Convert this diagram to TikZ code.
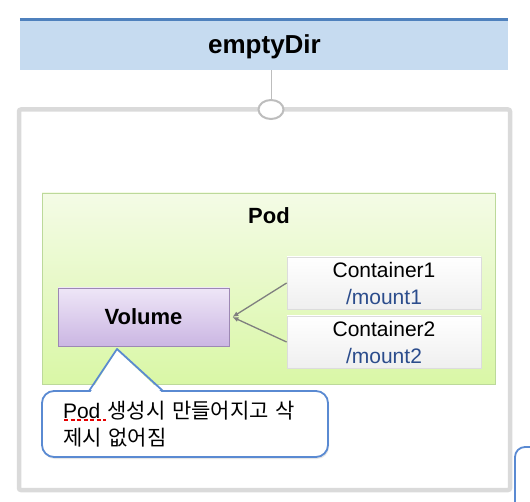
\documentclass[tikz,border=0pt]{standalone}
\usepackage{fontspec}
\setmainfont{Liberation Sans}
\newfontfamily\cjk{Noto Sans CJK KR}
\usetikzlibrary{shadows,arrows.meta,shapes.geometric}
\definecolor{hdrblue}{HTML}{C6DBF0}
\definecolor{hdrline}{HTML}{4F81BD}
\definecolor{framegray}{HTML}{DADADA}
\definecolor{circgray}{HTML}{BDBDBD}
\definecolor{podtop}{HTML}{F4FBE6}
\definecolor{podbot}{HTML}{D9F7A6}
\definecolor{podline}{HTML}{BCD99A}
\definecolor{voltop}{HTML}{EEE6F7}
\definecolor{volbot}{HTML}{CBB6E3}
\definecolor{volline}{HTML}{9D88B4}
\definecolor{conline}{HTML}{DCDCDC}
\definecolor{contop}{HTML}{FFFFFF}
\definecolor{conbot}{HTML}{EFEFEF}
\definecolor{mountblue}{HTML}{2B4C8C}
\definecolor{callblue}{HTML}{5A8AD2}
\definecolor{conngray}{HTML}{7F7F7F}
\tikzset{
  hdrbox/.style={rectangle, fill=hdrblue, inner sep=0, minimum width=488pt, minimum height=52pt},
  hdrtext/.style={font=\fontsize{26}{30}\selectfont\bfseries, inner sep=0},
  connector/.style={draw=circgray, line width=1pt},
  ring/.style={ellipse, draw=circgray, line width=2pt, fill=white, minimum width=25pt, minimum height=19pt, inner sep=0},
  framebox/.style={draw=framegray, line width=4.5pt, rounded corners=2pt},
  podbox/.style={rectangle, draw=podline, line width=0.8pt, top color=podtop, bottom color=podbot,
    minimum width=453pt, minimum height=191pt, inner sep=0,
    drop shadow={shadow xshift=1pt, shadow yshift=-1.5pt, opacity=0.2}},
  boldlbl/.style={font=\fontsize{22}{26}\selectfont\bfseries, inner sep=0},
  volbox/.style={rectangle, draw=volline, line width=0.8pt, top color=voltop, bottom color=volbot,
    minimum width=171pt, minimum height=58pt, inner sep=0, font=\fontsize{22}{26}\selectfont\bfseries},
  conbox/.style={rectangle, draw=conline, line width=0.8pt, top color=contop, bottom color=conbot,
    minimum width=194pt, minimum height=52pt, inner sep=0, align=center, font=\fontsize{21}{27}\selectfont},
  mountarrow/.style={draw=conngray, line width=1.3pt, -{Latex[length=6pt,width=5pt]}},
  notebox/.style={rectangle, draw=callblue, line width=1.8pt, fill=white, rounded corners=12pt,
    minimum width=286pt, minimum height=66pt, inner sep=0, text width=244pt, align=left,
    font=\fontsize{21}{27}\selectfont,
    drop shadow={shadow xshift=1pt, shadow yshift=-2pt, opacity=0.2}},
}
\begin{document}
\begin{tikzpicture}[x=1pt,y=-1pt]
\useasboundingbox (0,0) rectangle (530,502);
% outer frame
\draw[framebox] (19,109.5) rectangle (510,490);
% header
\node[hdrbox] (hdr) at (264,44) {};
\node[hdrtext] (hdrlbl) at (264.5,47) {emptyDir};
\draw[hdrline, line width=3.2pt] ([yshift=-1.6pt]hdr.north west) -- ([yshift=-1.6pt]hdr.north east);
\node[ring] (ring) at (271,109.5) {};
\draw[connector] (ring.north |- hdr.south) -- (ring.north);
% pod
\node[podbox] (pod) at (268.5,288.5) {};
\node[boldlbl] (podlbl) at (269,216) {Pod};
% volume
\node[volbox] (vol) at (143.5,317) {Volume};
% containers
\node[conbox] (c1) at (384,283) {Container1\\\textcolor{mountblue}{/mount1}};
\node[conbox] (c2) at (384,342) {Container2\\\textcolor{mountblue}{/mount2}};
\coordinate (vtip) at ([xshift=3pt]vol.east);
\draw[mountarrow] (c1.west) -- (vtip);
\draw[mountarrow] (c2.west) -- (vtip);
% callout
\node[notebox] (note) at (185,424) {Pod {\cjk 생성시 만들어지고 삭}\\{\cjk 제시 없어짐}};
\fill[white] (90.5,392.2) -- (117,350) -- (161.5,392.2) -- cycle;
\draw[callblue, line width=1.8pt, line join=round] (89,391) -- (117,349) -- (163,391);
\draw[red!90!black, line width=1.6pt, dash pattern=on 4pt off 2.5pt] (64,420) -- (106,420);
% partial shape at lower right
\begin{scope}
\clip (0,0) rectangle (530,502);
\draw[callblue, line width=1.8pt, rounded corners=10pt] (515,510) -- (515,447) -- (540,447);
\end{scope}
\end{tikzpicture}
\end{document}
